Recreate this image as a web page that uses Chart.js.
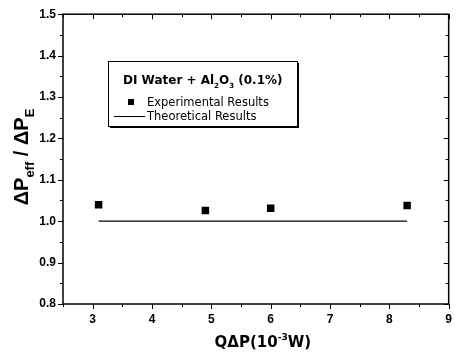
<!DOCTYPE html>
<html>
<head>
<meta charset="utf-8">
<script src="https://cdn.jsdelivr.net/npm/chart.js@4"></script>
<style>
  html, body { margin: 0; padding: 0; background: #fff; }
  #wrap { width: 460px; height: 357px; }
</style>
</head>
<body>
<div id="wrap"><canvas id="c" width="460" height="357"></canvas></div>
<script>
// values
const expX   = [3.1, 4.9, 6.0, 8.3];
const expY   = [1.040, 1.026, 1.031, 1.038];
const theoX  = [3.1, 8.3];
const theoY  = [1.0, 1.0];
const xTicks = [3, 4, 5, 6, 7, 8, 9];
const yTicks = [0.8, 0.9, 1.0, 1.1, 1.2, 1.3, 1.4, 1.5];

const legendTitle = [['DI Water + Al', 0], ['2', 1], ['O', 0], ['3', 1], [' (0.1%)', 0]];
const legendExp   = 'Experimental Results';
const legendTheo  = 'Theoretical Results';
const xTitle      = [['Q\u0394P(10', 0], ['-3', -1], ['W)', 0]];
const yTitle      = [['\u0394P', 0], ['eff', 1], [' / \u0394P', 0], ['E', 1]];

const pts = (xs, ys) => xs.map((x, i) => ({x: x, y: ys[i]}));

// draw text made of [str, shift] pieces, shift 1 = subscript, -1 = superscript
function richText(ctx, parts, x, y, size, family, align, subScale) {
    const small = Math.round(size * (subScale || 0.62));
    const font  = s => `bold ${s}px ${family}`;
    let w = 0;
    parts.forEach(p => { ctx.font = font(p[1] ? small : size); w += ctx.measureText(p[0]).width; });
    let cx = align === 'center' ? x - w / 2 : x;
    ctx.textAlign = 'left';
    ctx.textBaseline = 'alphabetic';
    parts.forEach(p => {
        ctx.font = font(p[1] ? small : size);
        const dy = p[1] === 1 ? size * 0.3 : p[1] === -1 ? -size * 0.45 : 0;
        ctx.fillText(p[0], cx, y + dy);
        cx += ctx.measureText(p[0]).width;
    });
}

const decor = {
    id: 'decor',
    afterDraw(chart) {
        const ctx = chart.ctx;
        const a   = chart.chartArea;
        const xs  = chart.scales.x;
        const ys  = chart.scales.y;
        ctx.save();
        ctx.strokeStyle = '#000';
        ctx.fillStyle   = '#000';

        // frame
        ctx.lineWidth = 1.5;
        ctx.strokeRect(a.left, a.top, a.right - a.left, a.bottom - a.top);

        // ticks: outward on left/bottom, inward on top/right
        ctx.lineWidth = 1;
        ctx.beginPath();
        for (let v = 2.5; v <= 9.001; v += 0.5) {
            const px = Math.round(xs.getPixelForValue(v)) + 0.5;
            const major = Math.abs(v - Math.round(v)) < 1e-6;
            const len = major ? 5 : 3;
            ctx.moveTo(px, a.bottom); ctx.lineTo(px, a.bottom + len);
            ctx.moveTo(px, a.top);    ctx.lineTo(px, a.top + len);
        }
        for (let v = 0.8; v <= 1.5001; v += 0.05) {
            const py = Math.round(ys.getPixelForValue(v)) + 0.5;
            const major = Math.abs(v * 10 - Math.round(v * 10)) < 1e-6;
            const len = major ? 5 : 3;
            ctx.moveTo(a.left - len, py);  ctx.lineTo(a.left, py);
            ctx.moveTo(a.right - len, py); ctx.lineTo(a.right, py);
        }
        ctx.stroke();

        // axis titles
        richText(ctx, xTitle, (a.left + a.right) / 2 + 7, 347, 15, '"DejaVu Sans"', 'center');
        ctx.save();
        ctx.translate(28, 157);
        ctx.rotate(-Math.PI / 2);
        richText(ctx, yTitle, 0, 0, 20, '"Liberation Sans"', 'center', 0.65);
        ctx.restore();

        // legend box
        const bx = 108, by = 61, bw = 189, bh = 65;
        ctx.fillStyle = '#000';
        ctx.fillRect(bx + 2, by + bh, bw, 2);
        ctx.fillRect(bx + bw, by + 2, 2, bh);
        ctx.fillStyle = '#fff';
        ctx.fillRect(bx, by, bw, bh);
        ctx.lineWidth = 1;
        ctx.strokeRect(bx + 0.5, by + 0.5, bw, bh);
        ctx.fillStyle = '#000';
        richText(ctx, legendTitle, 123, 84, 12, '"DejaVu Sans"', 'left');

        ctx.fillRect(128, 99, 6, 6);
        ctx.beginPath();
        ctx.moveTo(114, 116.5); ctx.lineTo(145, 116.5);
        ctx.stroke();
        ctx.font = '11.5px "DejaVu Sans"';
        ctx.textAlign = 'left';
        ctx.textBaseline = 'alphabetic';
        ctx.fillText(legendExp, 147, 106);
        ctx.fillText(legendTheo, 147, 120);
        ctx.restore();
    }
};

new Chart(document.getElementById('c'), {
    type: 'scatter',
    data: {
        datasets: [
            {
                label: legendExp,
                data: pts(expX, expY),
                pointStyle: 'rect',
                pointRadius: 5.3,
                backgroundColor: '#000',
                borderColor: '#000',
                borderWidth: 0
            },
            {
                label: legendTheo,
                data: pts(theoX, theoY),
                showLine: true,
                pointRadius: 0,
                borderColor: '#000',
                borderWidth: 1.2
            }
        ]
    },
    options: {
        responsive: false,
        animation: false,
        layout: {padding: {top: 13, right: 3, left: 0, bottom: 0}},
        plugins: {legend: {display: false}, tooltip: {enabled: false}},
        scales: {
            x: {
                type: 'linear',
                min: 2.5,
                max: 9,
                grid: {display: false, drawTicks: false, tickLength: 0},
                border: {display: false},
                afterBuildTicks: s => { s.ticks = xTicks.map(v => ({value: v})); },
                afterFit: s => { s.height = 53; },
                ticks: {
                    padding: 8,
                    color: '#000',
                    font: {family: 'Arial, "Liberation Sans"', weight: 'bold', size: 12},
                    callback: v => String(v)
                }
            },
            y: {
                type: 'linear',
                min: 0.8,
                max: 1.5,
                grid: {display: false, drawTicks: false, tickLength: 0},
                border: {display: false},
                afterBuildTicks: s => { s.ticks = yTicks.map(v => ({value: v})); },
                afterFit: s => { s.width = 63; },
                ticks: {
                    padding: 7,
                    color: '#000',
                    font: {family: 'Arial, "Liberation Sans"', weight: 'bold', size: 12},
                    callback: v => Number(v).toFixed(1)
                }
            }
        }
    },
    plugins: [decor]
});
</script>
</body>
</html>
